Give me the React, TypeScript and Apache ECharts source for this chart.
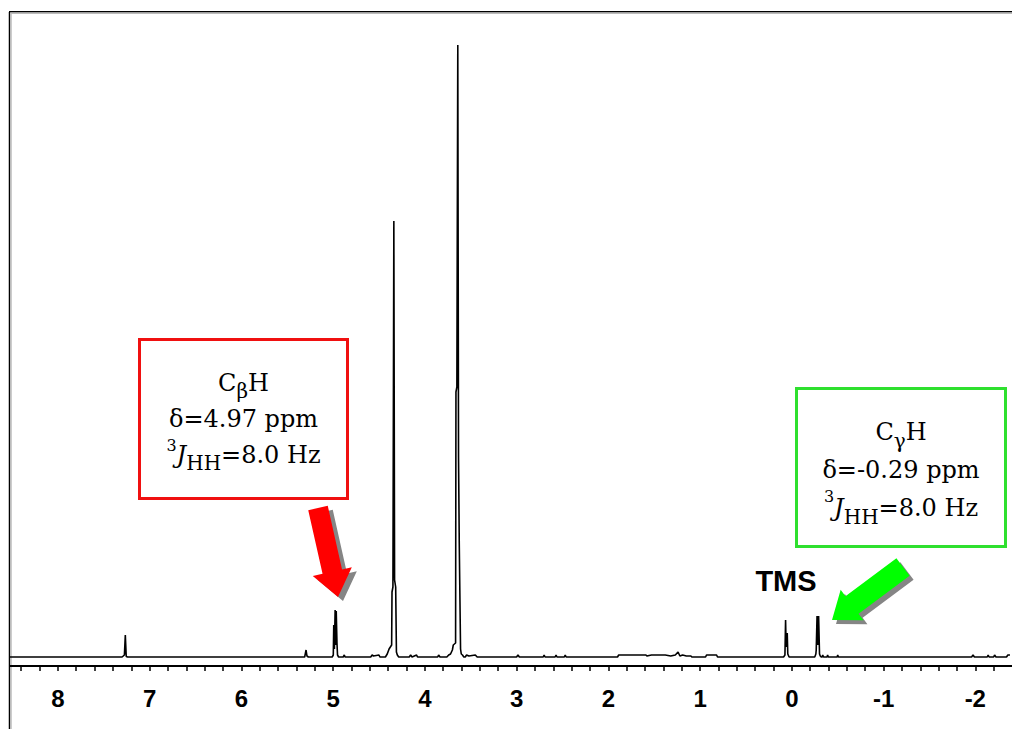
import React, { useEffect, useRef } from "react";
import * as echarts from "echarts";

// ppm (chemical shift) vs. intensity (arbitrary units)
const spectrum: [number, number][] = [
  [8.522, 0], [7.3, 0], [7.275, 2], [7.265, 22], [7.255, 0.5], [7.24, 0],
  [5.31, 0], [5.295, 7], [5.285, 1], [5.27, 0],
  [5.01, 0], [4.998, 2], [4.993, 32], [4.986, 8], [4.978, 47], [4.972, 12], [4.966, 46], [4.958, 14], [4.952, 2], [4.94, 0],
  [4.89, 0], [4.878, 2], [4.87, 0],
  [4.59, 0], [4.575, 2], [4.56, 1], [4.5, 2], [4.49, 0],
  [4.43, 0], [4.41, 3], [4.39, 8], [4.362, 12], [4.358, 65], [4.348, 70], [4.338, 436], [4.33, 77], [4.318, 70], [4.31, 5], [4.3, 2], [4.285, 0],
  [4.17, 0], [4.155, 2], [4.14, 0], [4.09, 2], [4.08, 0], [3.86, 0], [3.85, 2], [3.835, 0],
  [3.76, 0], [3.74, 2], [3.72, 3], [3.7, 7], [3.69, 12], [3.665, 14], [3.661, 265], [3.651, 270], [3.641, 612], [3.633, 200], [3.625, 114], [3.618, 114], [3.611, 8], [3.603, 3], [3.59, 2], [3.575, 0],
  [3.56, 0], [3.545, 2], [3.52, 1], [3.45, 2], [3.43, 0],
  [3.0, 0], [2.985, 2], [2.97, 0], [2.71, 0], [2.7, 2], [2.69, 0], [2.58, 0], [2.57, 2], [2.56, 0], [2.48, 0], [2.47, 2], [2.46, 0],
  [1.9, 0], [1.887, 2], [1.59, 2], [1.58, 1], [1.53, 2], [1.38, 2], [1.32, 1], [1.27, 2], [1.24, 5], [1.22, 1], [1.19, 2], [1.15, 1], [1.1, 1], [1.09, 0],
  [0.94, 0], [0.93, 2], [0.82, 2], [0.81, 0],
  [0.09, 0], [0.075, 2], [0.068, 37], [0.062, 10], [0.05, 24], [0.044, 3], [0.03, 0],
  [-0.25, 0], [-0.262, 3], [-0.266, 7], [-0.275, 41], [-0.283, 12], [-0.292, 41], [-0.302, 3], [-0.31, 1], [-0.32, 0],
  [-0.33, 0], [-0.337, 2], [-0.345, 0], [-0.385, 0], [-0.39, 2], [-0.398, 0], [-0.495, 0], [-0.5, 2], [-0.508, 0],
  [-1.96, 0], [-1.975, 2], [-1.99, 0], [-2.13, 0], [-2.14, 2], [-2.15, 0], [-2.2, 0], [-2.21, 2], [-2.225, 0],
  [-2.34, 0], [-2.355, 2], [-2.378, 2],
];

const tickLabels = [8, 7, 6, 5, 4, 3, 2, 1, 0, -1, -2];
const minorTicks = [
  8.4, 8.2, 8.0, 7.8, 7.6, 7.4, 7.2, 7.0, 6.8, 6.6, 6.4, 6.2, 6.0, 5.8, 5.6, 5.4, 5.2, 5.0,
  4.8, 4.6, 4.4, 4.2, 4.0, 3.8, 3.6, 3.4, 3.2, 3.0, 2.8, 2.6, 2.4, 2.2, 2.0, 1.8, 1.6, 1.4,
  1.2, 1.0, 0.8, 0.6, 0.4, 0.2, 0.0, -0.2, -0.4, -0.6, -0.8, -1.0, -1.2, -1.4, -1.6, -1.8,
  -2.0, -2.2,
];

const annotationBeta = "{n|C}{sub|β}{n|H}\n{n|δ=4.97 ppm}\n{sup|3}{it|J}{sub|HH}{n|=8.0 Hz}";
const annotationGamma = "{n|C}{sub|γ}{n|H}\n{n|δ=-0.29 ppm}\n{sup|3}{it|J}{sub|HH}{n|=8.0 Hz}";
const tmsLabel = "TMS";

function arrowPoints(tail: number[], tip: number[], shaftHalf: number, headHalf: number, headLen: number) {
  const dx = tip[0] - tail[0];
  const dy = tip[1] - tail[1];
  const L = Math.hypot(dx, dy);
  const ux = dx / L, uy = dy / L;
  const px = -uy, py = ux;
  const bx = tip[0] - ux * headLen, by = tip[1] - uy * headLen;
  return [
    [tail[0] + px * shaftHalf, tail[1] + py * shaftHalf],
    [bx + px * shaftHalf, by + py * shaftHalf],
    [bx + px * headHalf, by + py * headHalf],
    [tip[0], tip[1]],
    [bx - px * headHalf, by - py * headHalf],
    [bx - px * shaftHalf, by - py * shaftHalf],
    [tail[0] - px * shaftHalf, tail[1] - py * shaftHalf],
  ];
}

function shift(pts: number[][], ox: number, oy: number) {
  return pts.map((p) => [p[0] + ox, p[1] + oy]);
}

function richStyles(lineH: number, subH: number) {
  const fam = "'DejaVu Serif', 'Liberation Serif', serif";
  return {
    n: { fontSize: 24, fontFamily: fam, lineHeight: lineH, fill: "#000", align: "center" },
    it: { fontSize: 24, fontFamily: fam, fontStyle: "italic", lineHeight: lineH, fill: "#000", align: "center" },
    sub: { fontSize: 20, fontFamily: fam, lineHeight: subH, verticalAlign: "bottom", fill: "#000", align: "center" },
    sup: { fontSize: 16, fontFamily: fam, lineHeight: 28, verticalAlign: "top", fill: "#000", align: "center" },
  };
}

export default function App() {
  const ref = useRef<HTMLDivElement>(null);
  useEffect(() => {
    if (!ref.current) return;
    const chart = echarts.init(ref.current, undefined, { renderer: "svg" });
    const redArrow = arrowPoints([318, 508], [338, 597], 10, 20, 26);
    const greenArrow = arrowPoints([903, 567], [832, 620], 11, 19, 25);
    chart.setOption({
      animation: false,
      backgroundColor: "#fff",
      grid: { left: 10, right: -2, top: 12, bottom: 63, containLabel: false },
      xAxis: {
        type: "value",
        inverse: true,
        min: -2.4,
        max: 8.522,
        axisLine: { show: true, onZero: false, lineStyle: { color: "#000", width: 1.8 } },
        axisTick: { show: true, length: 5, customValues: minorTicks, lineStyle: { color: "#000", width: 1.5 } },
        axisLabel: {
          show: true,
          customValues: tickLabels,
          margin: 20,
          color: "#000",
          fontSize: 24,
          fontWeight: "bold",
          fontFamily: "'Liberation Sans', Arial, sans-serif",
          formatter: (v: number) => String(Math.round(v)),
        },
        splitLine: { show: false },
      },
      yAxis: { type: "value", min: -9, max: 645, show: false },
      series: [
        {
          type: "line",
          data: spectrum,
          symbol: "none",
          showSymbol: false,
          silent: true,
          lineStyle: { color: "#000", width: 1.6 },
        },
      ],
      graphic: [
        { type: "line", shape: { x1: 9.5, y1: 12, x2: 9.5, y2: 729 }, style: { stroke: "#000", lineWidth: 1.5 } },
        { type: "line", shape: { x1: 11, y1: 13.5, x2: 11, y2: 729 }, style: { stroke: "#bbb", lineWidth: 1.5 } },
        { type: "line", shape: { x1: 9, y1: 11.8, x2: 1012, y2: 11.8 }, style: { stroke: "#000", lineWidth: 1.5 } },
        { type: "line", shape: { x1: 10, y1: 13.3, x2: 1012, y2: 13.3 }, style: { stroke: "#bbb", lineWidth: 1.5 } },
        // red annotation
        { type: "rect", shape: { x: 139.5, y: 339.5, width: 208, height: 159 }, style: { fill: "#fff", stroke: "#f01010", lineWidth: 3 } },
        {
          type: "text",
          x: 243.5,
          y: 419,
          style: { text: annotationBeta, rich: richStyles(36, 14), align: "center", verticalAlign: "middle", fill: "#000", fontSize: 24 },
        },
        { type: "polygon", shape: { points: shift(redArrow, 5, 4) }, style: { fill: "#858585" } },
        { type: "polygon", shape: { points: redArrow }, style: { fill: "#ff0000" } },
        // green annotation
        { type: "rect", shape: { x: 796.5, y: 388.5, width: 209, height: 158 }, style: { fill: "#fff", stroke: "#2fe02f", lineWidth: 3 } },
        {
          type: "text",
          x: 901,
          y: 469.5,
          style: { text: annotationGamma, rich: richStyles(38, 16), align: "center", verticalAlign: "middle", fill: "#000", fontSize: 24 },
        },
        { type: "polygon", shape: { points: shift(greenArrow, 4, 4) }, style: { fill: "#858585" } },
        { type: "polygon", shape: { points: greenArrow }, style: { fill: "#00ff00" } },
        {
          type: "text",
          x: 786,
          y: 581,
          style: {
            text: tmsLabel,
            fontSize: 29,
            fontWeight: "bold",
            fontFamily: "'Liberation Sans', Arial, sans-serif",
            align: "center",
            verticalAlign: "middle",
            fill: "#000",
          },
        },
      ],
    });
    return () => chart.dispose();
  }, []);
  return (
    <div
      ref={ref}
      style={{ position: "fixed", left: 0, top: 0, width: 1012, height: 729, background: "#fff" }}
    />
  );
}
